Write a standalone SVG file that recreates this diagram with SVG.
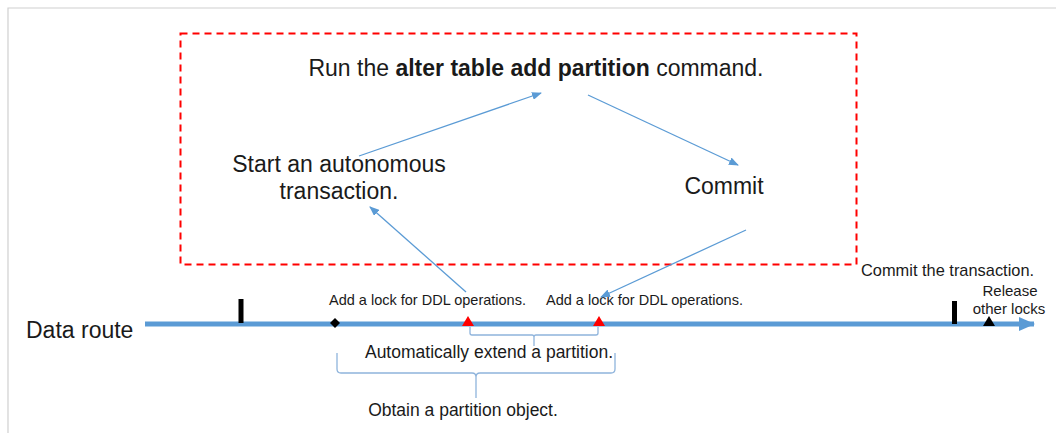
<svg xmlns="http://www.w3.org/2000/svg" width="1056" height="433" viewBox="0 0 1056 433">
  <defs>
    <marker id="ah" markerWidth="10" markerHeight="8" refX="9" refY="4" orient="auto" markerUnits="userSpaceOnUse">
      <path d="M0,0 L10,4 L0,8 Z" fill="#5b9bd5"/>
    </marker>
    <marker id="ahBig" markerWidth="16" markerHeight="14" refX="15" refY="7" orient="auto" markerUnits="userSpaceOnUse">
      <path d="M0,0 L16,7 L0,14 Z" fill="#5b9bd5"/>
    </marker>
  </defs>
  <style>
    text { font-family: "Liberation Sans", Arial, sans-serif; fill: #1a1a1a; }
    .big { font-size: 23px; }
    .mid { font-size: 17.5px; }
    .sm { font-size: 14.5px; }
    .flow { stroke: #5b9bd5; stroke-width: 1.3; fill: none; marker-end: url(#ah); }
    .brace { stroke: #8fb4dc; stroke-width: 1.3; fill: none; }
  </style>
  <rect width="1056" height="433" fill="#ffffff"/>
  <!-- frame -->
  <path d="M8,433 L8,8 L1056,8" fill="none" stroke="#d0d0d0" stroke-width="1.2"/>

  <!-- autonomous transaction region -->
  <rect id="autonomous-box" x="180.5" y="33.5" width="676" height="231" fill="none" stroke="#ff0000" stroke-width="2" stroke-dasharray="7,5"/>

  <g id="node-run">
    <text class="big" x="536" y="76" text-anchor="middle">Run the <tspan font-weight="bold">alter table add partition</tspan> command.</text>
  </g>
  <g id="node-start">
    <text class="big" x="339" y="172" text-anchor="middle">Start an autonomous</text>
    <text class="big" x="339" y="199" text-anchor="middle">transaction.</text>
  </g>
  <g id="node-commit">
    <text class="big" x="724" y="194" text-anchor="middle">Commit</text>
  </g>

  <!-- data route timeline -->
  <g id="data-route">
    <text class="big" x="26" y="338">Data route</text>
    <line x1="145" y1="324" x2="1034" y2="324" stroke="#5b9bd5" stroke-width="5" marker-end="url(#ahBig)"/>
    <rect x="238.5" y="299" width="5" height="24" fill="#000"/>
    <path d="M335,318 L340,323 L335,328 L330,323 Z" fill="#000"/>
    <path d="M468,316 L474,326 L462,326 Z" fill="#ff0000"/>
    <path d="M599,316 L605,326 L593,326 Z" fill="#ff0000"/>
    <rect x="952" y="301" width="5" height="23" fill="#000"/>
    <path d="M989,316 L995,326 L983,326 Z" fill="#000"/>
  </g>

  <g id="label-lock1"><text class="sm" x="329" y="305">Add a lock for DDL operations.</text></g>
  <g id="label-lock2"><text class="sm" x="546" y="305">Add a lock for DDL operations.</text></g>
  <g id="label-commit-tx"><text x="861" y="276" font-size="16.4">Commit the transaction.</text></g>
  <g id="label-release">
    <text x="1010" y="296" text-anchor="middle" font-size="15">Release</text>
    <text x="1009" y="314" text-anchor="middle" font-size="15">other locks</text>
  </g>

  <!-- braces -->
  <g id="brace-extend">
    <path class="brace" d="M470,327 L470,333 Q470,335 472,335 L532,335 Q534,335 534,337 L534,346 M534,337 Q534,335 536,335 L596,335 Q598,335 598,333 L598,327"/>
    <text class="mid" x="489" y="358" text-anchor="middle">Automatically extend a partition.</text>
  </g>
  <g id="brace-obtain">
    <path class="brace" d="M337,353 L337,369 Q337,373 341,373 L472,373 Q476,373 476,377 L476,398 M476,377 Q476,373 480,373 L611,373 Q615,373 615,369 L615,353"/>
    <text class="mid" x="463" y="416" text-anchor="middle">Obtain a partition object.</text>
  </g>

  <!-- connectors -->
  <g id="connectors">
    <line class="flow" x1="359" y1="156" x2="541" y2="93"/>
    <line class="flow" x1="588" y1="95" x2="738" y2="165"/>
    <line class="flow" x1="466" y1="292" x2="370" y2="207"/>
    <line class="flow" x1="746" y1="230" x2="601" y2="297"/>
  </g>
</svg>
